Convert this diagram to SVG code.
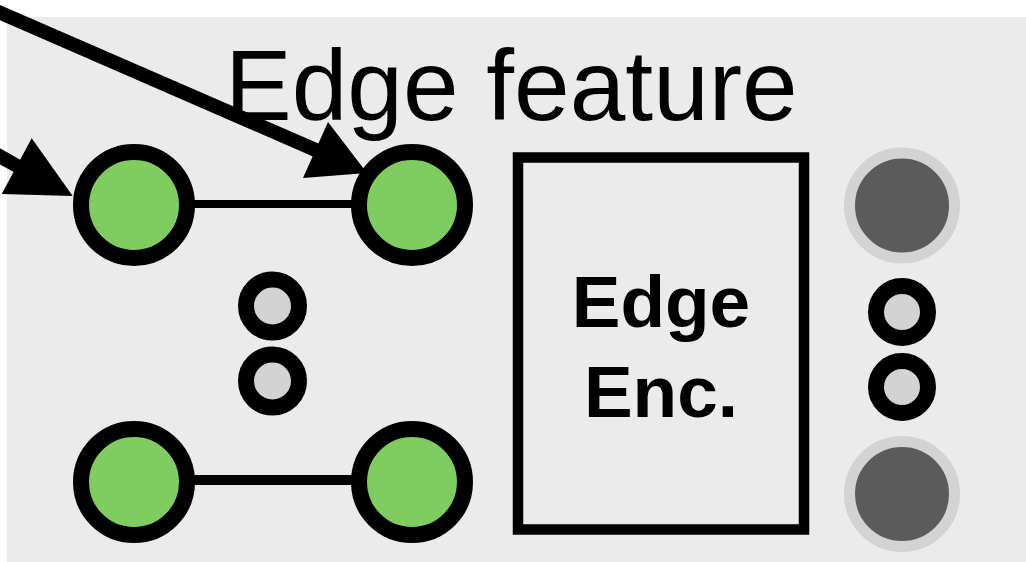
<svg xmlns="http://www.w3.org/2000/svg" width="1026" height="562" viewBox="0 0 1026 562">
  <style>
    .green { fill: #7ecd5e; stroke: #000; stroke-width: 16; }
    .dot { fill: #d3d3d3; stroke: #000; stroke-width: 16; }
    .dark { fill: #5b5b5b; stroke: #d3d3d3; stroke-width: 11; }
    .edge { stroke: #000; fill: none; }
    .arrow { stroke: #000; stroke-width: 14; fill: none; }
    .head { fill: #000; }
  </style>
  <rect x="0" y="0" width="1026" height="562" fill="#ffffff"/>
  <rect id="panel" x="7" y="17" width="1019" height="545" fill="#ebebeb"/>
  <text id="title" x="225" y="120" font-family="Liberation Sans, Arial, sans-serif" font-size="100" fill="#000">Edge feature</text>

  <g id="graph-edges">
    <line class="edge" x1="134" y1="204" x2="412" y2="204" stroke-width="8"/>
    <line class="edge" x1="134" y1="480" x2="412" y2="480" stroke-width="10"/>
  </g>

  <g id="node-g1"><circle class="green" cx="134" cy="205" r="53"/></g>
  <g id="node-g2"><circle class="green" cx="412" cy="205" r="53"/></g>
  <g id="node-g3"><circle class="green" cx="134" cy="482" r="53"/></g>
  <g id="node-g4"><circle class="green" cx="412" cy="482" r="53"/></g>

  <g id="node-dots-left">
    <circle class="dot" cx="272.5" cy="306" r="26.5"/>
    <circle class="dot" cx="272.5" cy="381" r="26.5"/>
  </g>

  <g id="node-encoder">
    <rect x="518" y="157.5" width="286" height="372" fill="none" stroke="#000" stroke-width="10.5"/>
    <text x="661" y="327" text-anchor="middle" font-family="Liberation Sans, Arial, sans-serif" font-size="73" font-weight="bold" fill="#000">Edge</text>
    <text x="661" y="417" text-anchor="middle" font-family="Liberation Sans, Arial, sans-serif" font-size="73" font-weight="bold" fill="#000">Enc.</text>
  </g>

  <g id="node-out1"><circle class="dark" cx="902" cy="205.5" r="52.5"/></g>
  <g id="node-dots-right">
    <circle class="dot" cx="902" cy="312" r="26"/>
    <circle class="dot" cx="902" cy="387" r="26"/>
  </g>
  <g id="node-out2"><circle class="dark" cx="902" cy="494" r="52.5"/></g>

  <g id="connectors">
    <line class="arrow" x1="-30" y1="-0.5" x2="318" y2="151"/>
    <polygon class="head" points="328,122 303,178 367,173"/>
    <line class="arrow" x1="-40" y1="134" x2="19" y2="167"/>
    <polygon class="head" points="31.7,138.3 1.7,194 72.7,196"/>
  </g>
</svg>
